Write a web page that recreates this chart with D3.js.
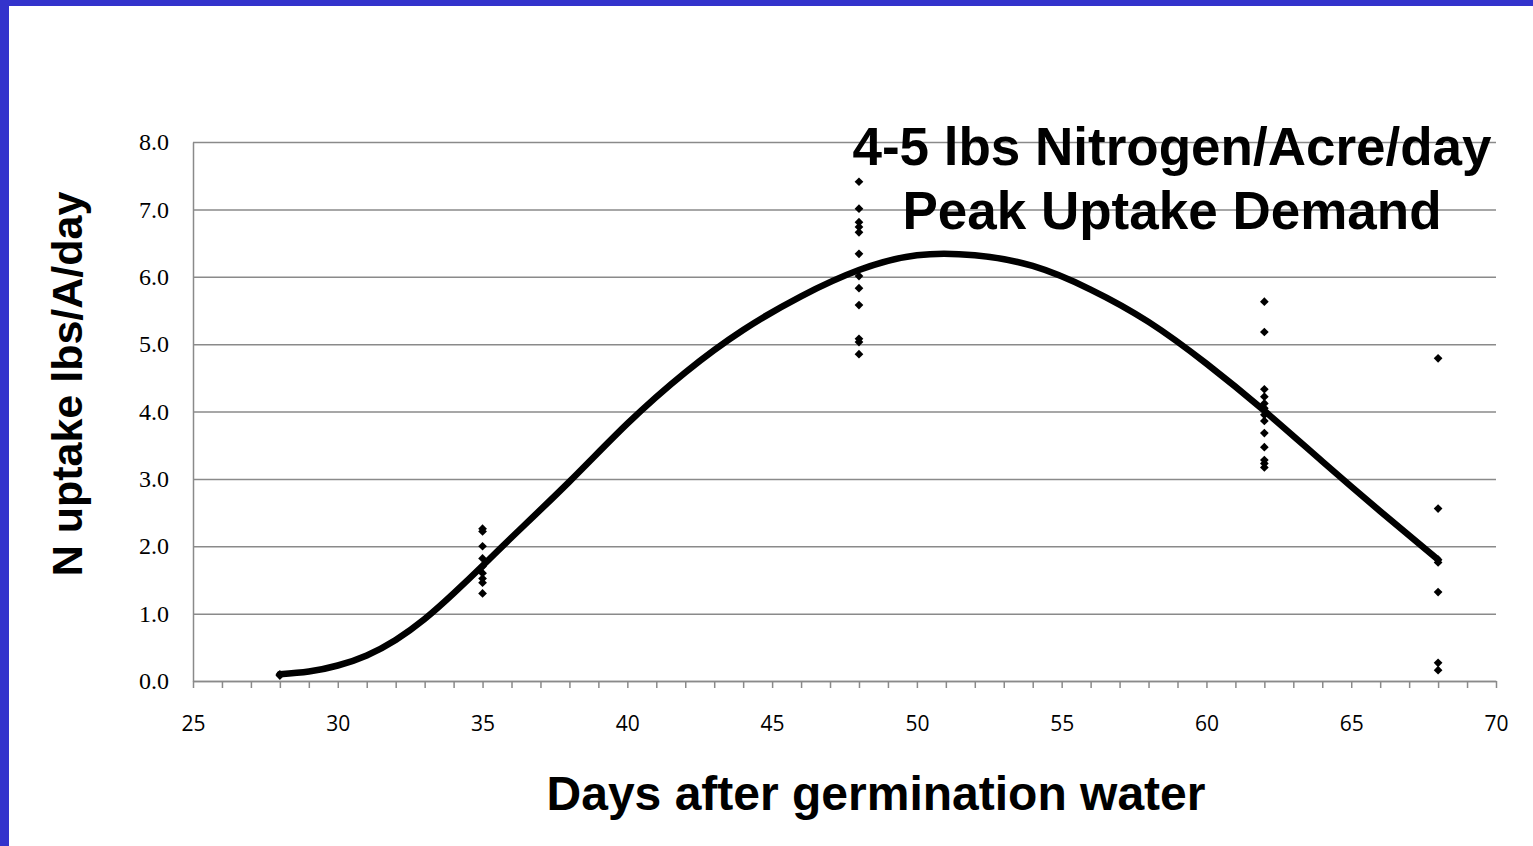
<!DOCTYPE html>
<html>
<head>
<meta charset="utf-8">
<script src="https://cdn.jsdelivr.net/npm/d3@7"></script>
<style>
  html, body { margin: 0; padding: 0; background: #fff; }
  svg { display: block; }
</style>
</head>
<body>
<svg width="1533" height="846"></svg>
<script>
// sample days and the N uptake readings at each
var sampleDays = [28, 35, 48, 62, 68];
var uptake = [
    [0.10, 0.08],
    [2.26, 2.22, 2.00, 1.82, 1.70, 1.60, 1.52, 1.46, 1.30],
    [7.41, 7.01, 6.81, 6.74, 6.66, 6.34, 6.01, 5.83, 5.58, 5.08, 5.03, 4.85],
    [5.63, 5.18, 4.33, 4.22, 4.12, 4.05, 3.95, 3.86, 3.68, 3.47, 3.28, 3.23, 3.17],
    [4.79, 2.56, 1.80, 1.76, 1.32, 0.27, 0.16]
];

// trend curve
var trendDays = [28, 29, 30, 31, 32, 33, 34, 35, 36, 38, 40, 42, 44, 46, 48, 50, 52, 54, 56, 58, 60, 62, 64, 66, 68];
var trendVals = [0.10, 0.14, 0.23, 0.38, 0.61, 0.92, 1.30, 1.71, 2.13, 2.96, 3.82, 4.58, 5.21, 5.71, 6.10, 6.32, 6.32, 6.16, 5.81, 5.33, 4.71, 4.01, 3.26, 2.52, 1.80];

var yTicks = [0, 1, 2, 3, 4, 5, 6, 7, 8];
var xLabels = [25, 30, 35, 40, 45, 50, 55, 60, 65, 70];
var note = ["4-5 lbs Nitrogen/Acre/day", "Peak Uptake Demand"];

var svg = d3.select("svg");
var gridColor = "#8a8a8a";

// blue slide frame
svg.append("rect").attr("x", 0).attr("y", 0).attr("width", 1533).attr("height", 6).attr("fill", "#3333cc");
svg.append("rect").attr("x", 0).attr("y", 0).attr("width", 9).attr("height", 846).attr("fill", "#3333cc");

var x = d3.scaleLinear().domain([25, 70]).range([193, 1496]);
var y = d3.scaleLinear().domain([0, 8]).range([681, 142]);

// y axis + gridlines
var yAxis = svg.append("g")
    .attr("transform", "translate(193,0)")
    .call(d3.axisLeft(y).tickValues(yTicks).tickFormat(d3.format(".1f"))
        .tickSize(-(1496 - 193)).tickSizeOuter(0).tickPadding(24));
yAxis.select(".domain").attr("stroke", gridColor).attr("stroke-width", 1.5);
yAxis.selectAll(".tick line").attr("stroke", gridColor).attr("stroke-width", 1.5);
yAxis.selectAll(".tick text")
    .attr("font-family", "'Liberation Serif', 'Times New Roman', serif")
    .attr("font-size", 24)
    .attr("fill", "#000");

// x axis with a tick every day
var xAxis = svg.append("g")
    .attr("transform", "translate(0,681)")
    .call(d3.axisBottom(x).tickValues(d3.range(25, 71))
        .tickFormat(function(d) { return xLabels.indexOf(d) >= 0 ? d : ""; })
        .tickSize(7).tickSizeOuter(0));
xAxis.select(".domain").attr("stroke", gridColor).attr("stroke-width", 1.5);
xAxis.selectAll(".tick line").attr("stroke", gridColor).attr("stroke-width", 1.5);
xAxis.selectAll(".tick text")
    .attr("y", 50).attr("dy", 0)
    .attr("font-family", "'Open Sans', sans-serif")
    .attr("font-size", 21)
    .attr("fill", "#000");

// annotation
svg.selectAll(".note")
    .data(note)
    .enter().append("text")
    .attr("class", "note")
    .attr("x", 1172)
    .attr("y", function(d, i) { return 165 + i * 64; })
    .attr("text-anchor", "middle")
    .attr("font-family", "'Liberation Sans', Arial, sans-serif")
    .attr("font-weight", "bold")
    .attr("font-size", 53)
    .text(function(d) { return d; });

// trend line
var line = d3.line()
    .x(function(d, i) { return x(trendDays[i]); })
    .y(function(d) { return y(d); })
    .curve(d3.curveNatural);

svg.append("path")
    .attr("d", line(trendVals))
    .attr("fill", "none")
    .attr("stroke", "#000")
    .attr("stroke-width", 6.5)
    .attr("stroke-linecap", "round");

// points
var pts = [];
sampleDays.forEach(function(day, i) {
    uptake[i].forEach(function(v) { pts.push({day: day, val: v}); });
});

var diamond = d3.symbol().type(d3.symbolSquare).size(38);
svg.selectAll(".pt")
    .data(pts)
    .enter().append("path")
    .attr("class", "pt")
    .attr("d", diamond)
    .attr("transform", function(d) {
        return "translate(" + x(d.day) + "," + y(d.val) + ") rotate(45)";
    })
    .attr("fill", "#000");

// axis titles
svg.append("text")
    .attr("x", 876)
    .attr("y", 810)
    .attr("text-anchor", "middle")
    .attr("font-family", "'Liberation Sans', Arial, sans-serif")
    .attr("font-weight", "bold")
    .attr("font-size", 48)
    .text("Days after germination water");

svg.append("text")
    .attr("transform", "translate(82,384) rotate(-90)")
    .attr("text-anchor", "middle")
    .attr("font-family", "'Liberation Sans', Arial, sans-serif")
    .attr("font-weight", "bold")
    .attr("font-size", 43)
    .text("N uptake lbs/A/day");
</script>
</body>
</html>
